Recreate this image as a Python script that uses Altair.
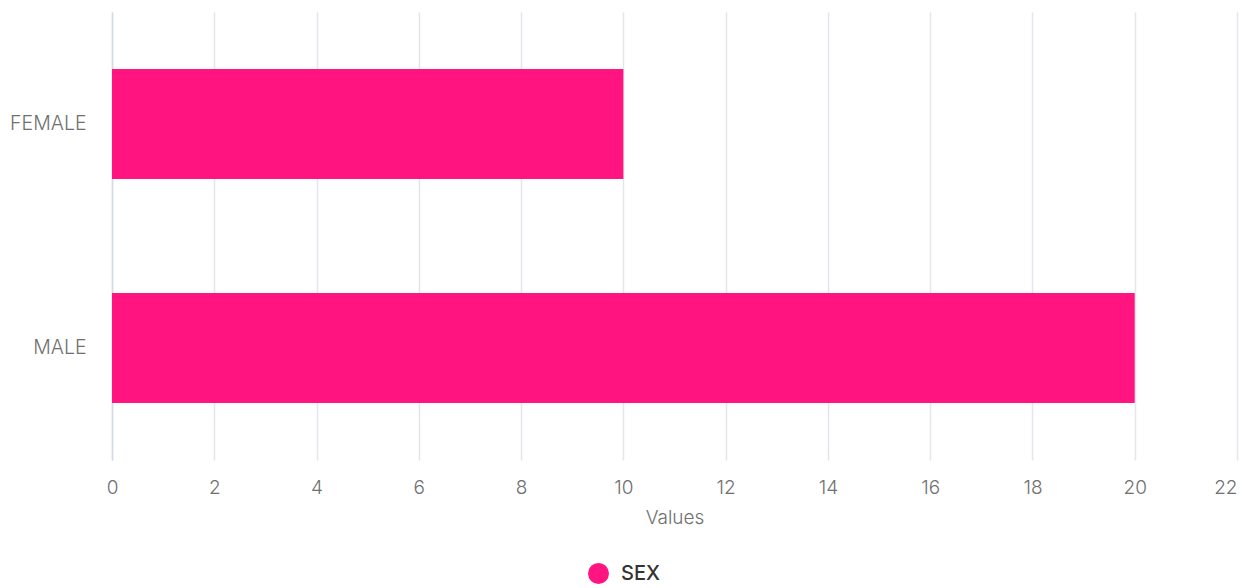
import altair as alt
import pandas as pd

categories = ["FEMALE", "MALE"]
values = [10, 20]
series = ["SEX", "SEX"]

df = pd.DataFrame({"category": categories, "value": values, "series": series})

FONT = "Inter"

chart = alt.Chart(df).mark_bar(color="#ff1480").encode(
    y=alt.Y("category:N", sort=categories,
            scale=alt.Scale(paddingInner=0.51, paddingOuter=0.255),
            axis=alt.Axis(title=None, ticks=False, grid=False, domain=True,
                          domainColor="#d3dbe6", domainWidth=1.5,
                          labelPadding=26, labelFontSize=19.5, labelColor="#707070",
                          labelFont=FONT, labelFontWeight=300)),
    x=alt.X("value:Q", scale=alt.Scale(domain=[0, 22], nice=False),
            axis=alt.Axis(title="Values", values=list(range(0, 23, 2)), ticks=False,
                          domain=False, grid=True, gridColor="#e3e6ea", gridWidth=1.5,
                          labelFlush=False,
                          labelAlign={"condition": {"test": "datum.value == 22", "value": "right"},
                                      "value": "center"},
                          labelPadding=18, labelFontSize=19, labelColor="#707070",
                          labelFont=FONT, labelFontWeight=300,
                          titleFont=FONT, titleFontSize=19, titleFontWeight=300,
                          titleColor="#707070", titlePadding=11)),
    color=alt.Color("series:N", scale=alt.Scale(range=["#ff1480"]),
                    legend=alt.Legend(title=None, orient="none", legendX=476, legendY=551,
                                      symbolType="circle", symbolSize=440,
                                      symbolStrokeWidth=0, labelFont=FONT,
                                      labelFontSize=20, labelFontWeight=500,
                                      labelColor="#333333", labelOffset=12)),
).properties(
    width=1125, height=448,
    background="white",
    autosize=alt.AutoSizeParams(type="none"),
    padding={"left": 112, "top": 12, "right": 5, "bottom": 128},
).configure_view(stroke=None)

chart.save("out.html", embed_options={"renderer": "svg", "actions": False})
